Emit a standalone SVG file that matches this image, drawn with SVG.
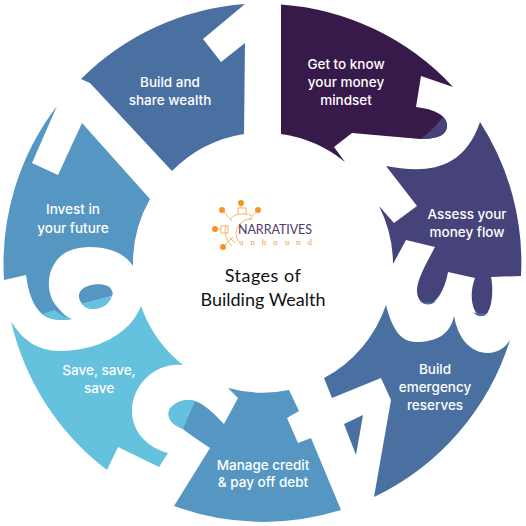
<svg xmlns="http://www.w3.org/2000/svg" width="526" height="526" viewBox="0 0 526 526">
<style>
.l{font-family:"Inter","Liberation Sans",sans-serif;font-size:13.5px;font-weight:500;fill:#fff;text-anchor:middle}
.t{font-family:"Lato","Noto Sans",sans-serif;font-size:18px;fill:#111;text-anchor:middle}
.c1{fill:#371a4a}.c2{fill:#46437a}.c3{fill:#4a6fa1}.c4{fill:#5597c2}.c5{fill:#65c2de}
.o{fill:#f5941e}.g{fill:none;stroke:#f5a54a;stroke-width:.8}
</style>
<rect width="526" height="526" fill="#fff"/>
<g id="stage-1">
<path class="c1" d="M281 4.5A259.5 259.5 0 0 1 453 87L421 76L416 107C432 109 446 114 447 125C447 134 440 139 420 139L352 133L334 147L345 162A130 130 0 0 0 281 134Z"/>
<path class="c2" d="M443 117C446 119 447 122 447 125C447 134 440 139 420 139C428 134 436 126 443 117Z"/>
<text class="l" x="346" y="69">Get to know</text><text class="l" x="346" y="87">your money</text><text class="l" x="346" y="105">mindset</text>
</g>
<g id="stage-2">
<path class="c2" d="M480 122A259.5 259.5 0 0 1 521 276L491 277C494 290 492 316 482 316C473 316 468 296 475 278L448 272C446 285 438 304 428 304C420 304 417 297 417 291C417 282 422 272 427 262L435 247L406 240L393 264A130 130 0 0 0 379 206L394 223L417 206L386 166C420 172 462 175 480 122Z"/>
<path class="c3" d="M420 301C424 303 432 303 436 301C433 305 424 306 420 301ZM473 312C477 314 484 314 488 312C486 317 477 318 473 312Z"/>
<text class="l" x="467" y="219">Assess your</text><text class="l" x="467" y="237">money flow</text>
</g>
<g id="stage-3">
<path class="c3" d="M386 305C392 328 400 342 416 342C436 342 450 335 454 316C458 338 470 353 488 353C497 353 505 348 510 340A259.5 259.5 0 0 1 374 497L391 400L381 378L332 398L324 378A130 130 0 0 0 386 305Z"/>
<path class="c3" d="M363 415L344 424L356 455Z"/>
<text class="l" x="435" y="374">Build</text><text class="l" x="435" y="392">emergency</text><text class="l" x="435" y="410">reserves</text>
</g>
<g id="stage-4">
<path class="c4" d="M289 390L299 411L287 418L298 443L311 438L341 510A259.5 259.5 0 0 1 174 506L210 448C200 441 190 435 183 429C172 425 167 418 169 411C172 403 185 398 195 401C205 404 214 414 224 424L238 398L228 388A130 130 0 0 0 289 390Z"/>
<path class="c5" d="M195 401L183 429C172 425 167 418 169 411C172 403 185 398 195 401Z"/>
<text class="l" x="263" y="470">Manage credit</text><text class="l" x="263" y="487">&amp; pay off debt</text>
</g>
<g id="stage-5">
<path class="c5" d="M11 321C22 340 38 351 60 351C95 351 130 335 141 306A130 130 0 0 0 183 365C155 362 132 385 132 411C132 432 148 448 168 453L159 467L118 447L107 470A259.5 259.5 0 0 1 11 321Z"/>
<text class="l" x="99" y="375">Save, save,</text><text class="l" x="99" y="393">save</text>
</g>
<g id="stage-6">
<path class="c4" d="M82 123L150 199A130 130 0 0 0 133 266C125 253 108 247 90 247C72 247 60 254 55 263C48 272 44 295 60 310C64 315 68 318 72 319C60 321 50 320 42 314C32 305 28 290 26 275L4 280A259.5 259.5 0 0 1 57 106L32 163L58 175Z"/>
<path class="c5" d="M42 314L55 310C60 315 66 318 72 319C60 321 50 320 42 314Z"/>
<path class="c4" d="M82 304C76 296 79 289 88 286C97 283 108 284 111 289C113 292 113 294 112 296Z"/>
<path class="c5" d="M82 304L112 296C110 303 103 309 93 309C88 309 84 307 82 304Z"/>
<text class="l" x="73" y="214">Invest in</text><text class="l" x="73" y="233">your future</text>
</g>
<g id="stage-7">
<path class="c3" d="M245 4A259.5 259.5 0 0 0 81 79L90 83L172 171A130 130 0 0 1 244 134L245 43L221 62L203 39Z"/>
<text class="l" x="170" y="87">Build and</text><text class="l" x="170" y="105">share wealth</text>
</g>
<g id="center">
<circle class="o" cx="241" cy="203" r="3"/><circle class="o" cx="222" cy="210" r="3"/><circle class="o" cx="258" cy="210" r="3"/><circle class="o" cx="215" cy="229" r="3"/><circle class="o" cx="223" cy="247" r="3"/>
<path class="g" d="M238 241A15 15 0 0 1 252 219M232 246A20 20 0 0 1 226 225M230 219A19 19 0 0 1 238 214M246 214A20 20 0 0 1 252 216M224 212L232 221M256 212L249 220M241 206V208M218 229H221M225 245L233 237M229 237L235 243"/>
<rect class="g" x="238" y="208" width="8" height="6"/><rect class="g" x="221" y="226" width="7" height="7"/>
<text x="238" y="233.5" font-family="Lato,'Noto Sans',sans-serif" font-size="12.5" fill="#4b3a6b" textLength="74">NARRATIVES</text>
<text x="239" y="245" font-family="'Liberation Serif',serif" font-size="9" fill="#e8a04c" textLength="73" lengthAdjust="spacing">unbound</text>
<text class="t" x="263" y="282" letter-spacing=".5">Stages of</text><text class="t" x="263" y="306">Building Wealth</text>
</g>
</svg>
